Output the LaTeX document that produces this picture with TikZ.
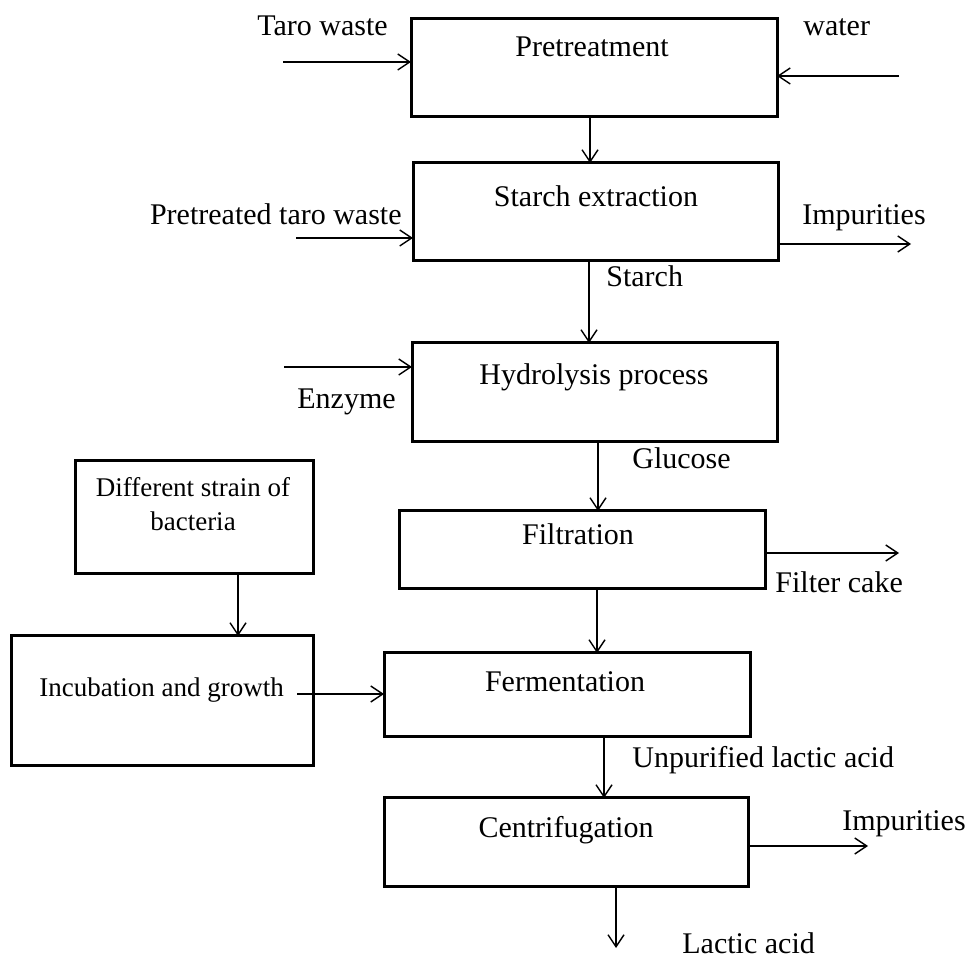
\documentclass[tikz,border=0pt]{standalone}
\usepackage{fontspec}
\setmainfont{Liberation Serif}
\usetikzlibrary{arrows.meta}
\begin{document}
\begin{tikzpicture}[x=0.5pt,y=-0.5pt,
  box/.style={draw, line width=1.5pt, inner sep=0pt, outer sep=0pt},
  arr/.style={line width=0.7pt, -{Straight Barb[length=6pt,width=8pt]}},
  lbl/.style={inner sep=0pt, font=\fontsize{15pt}{18pt}\selectfont},
  slbl/.style={inner sep=0pt, font=\fontsize{13.5pt}{17pt}\selectfont}]
\useasboundingbox (0,0) rectangle (971,957);
% boxes
\node[box, minimum width=183pt, minimum height=49pt] (pre) at (594,68) {};
\node[box, minimum width=182.5pt, minimum height=49pt] (se) at (595.5,212) {};
\node[box, minimum width=182.5pt, minimum height=49.5pt] (hy) at (594.5,392.5) {};
\node[box, minimum width=183pt, minimum height=39pt] (fi) at (582,550) {};
\node[box, minimum width=183pt, minimum height=42pt] (fe) at (567,695) {};
\node[box, minimum width=182pt, minimum height=44pt] (ce) at (566,842) {};
\node[box, minimum width=119pt, minimum height=56.5pt] (ds) at (194,517.5) {};
\node[box, minimum width=151pt, minimum height=65pt] (ib) at (162,701) {};
% texts
\node[lbl, anchor=base] (tpre) at (592,57) {Pretreatment};
\node[lbl, anchor=base west] (ttaro) at (257,36) {Taro waste};
\node[lbl, anchor=base west] (twater) at (803,36) {water};
\node[lbl, anchor=base] (tse) at (596,207) {Starch extraction};
\node[lbl, anchor=base east] (tptw) at (402,225) {Pretreated taro waste};
\node[lbl, anchor=base west] (timp1) at (802,225) {Impurities};
\node[lbl, anchor=base west] (tstarch) at (606,287) {Starch};
\node[lbl, anchor=base] (thy) at (594,385) {Hydrolysis process};
\node[lbl, anchor=base west] (tenz) at (297,409) {Enzyme};
\node[lbl, anchor=base west] (tglu) at (632,469) {Glucose};
\node[lbl, anchor=base] (tfi) at (578,545) {Filtration};
\node[lbl, anchor=base west] (tfc) at (775,593) {Filter cake};
\node[slbl, anchor=base] (tds1) at (193,497) {Different strain of};
\node[slbl, anchor=base] (tds2) at (193,531) {bacteria};
\node[slbl, anchor=base west] (tib) at (39,697) {Incubation and growth};
\node[lbl, anchor=base] (tfe) at (565,691) {Fermentation};
\node[lbl, anchor=base west] (tunp) at (632,768) {Unpurified lactic acid};
\node[lbl, anchor=base] (tce) at (566,837) {Centrifugation};
\node[lbl, anchor=base west] (timp2) at (842,830) {Impurities};
\node[lbl, anchor=base west] (tla) at (682,953) {Lactic acid};
% free ends and columns
\coordinate (a1) at (283,62);
\coordinate (a2) at (899,76);
\coordinate (a3) at (296,238);
\coordinate (a4) at (911,244);
\coordinate (a5) at (284,367);
\coordinate (a6) at (899,553);
\coordinate (a7) at (297,694);
\coordinate (a8) at (868,846);
\coordinate (a9) at (616,948);
\coordinate (x1) at (590,0);
\coordinate (x2) at (589,0);
\coordinate (x3) at (598,0);
\coordinate (x4) at (597,0);
\coordinate (x5) at (238,0);
\coordinate (x6) at (604,0);
% connectors
\draw[arr] (a1) -- (a1 -| pre.west);
\draw[arr] (a2) -- (a2 -| pre.east);
\draw[arr] (pre.south -| x1) -- (se.north -| x1);
\draw[arr] (a3) -- (a3 -| se.west);
\draw[arr] (a4 -| se.east) -- (a4);
\draw[arr] (se.south -| x2) -- (hy.north -| x2);
\draw[arr] (a5) -- (a5 -| hy.west);
\draw[arr] (hy.south -| x3) -- (fi.north -| x3);
\draw[arr] (a6 -| fi.east) -- (a6);
\draw[arr] (fi.south -| x4) -- (fe.north -| x4);
\draw[arr] (ds.south -| x5) -- (ib.north -| x5);
\draw[arr] (a7) -- (a7 -| fe.west);
\draw[arr] (fe.south -| x6) -- (ce.north -| x6);
\draw[arr] (a8 -| ce.east) -- (a8);
\draw[arr] (a9 |- ce.south) -- (a9);
\end{tikzpicture}
\end{document}
